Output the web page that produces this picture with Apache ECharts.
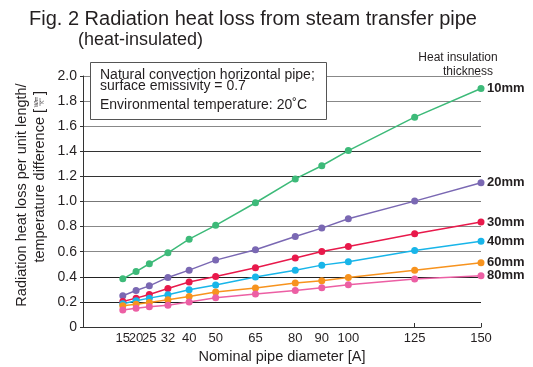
<!DOCTYPE html>
<html>
<head>
<meta charset="utf-8">
<script src="https://cdn.jsdelivr.net/npm/echarts@6/dist/echarts.min.js"></script>
<style>html,body{margin:0;padding:0;background:#fff}#c{width:533px;height:367px}</style>
</head>
<body>
<div id="c"></div>
<script>
const diameters = [15, 20, 25, 32, 40, 50, 65, 80, 90, 100, 125, 150];
const yTicks = [0, 0.2, 0.4, 0.6, 0.8, 1.0, 1.2, 1.4, 1.6, 1.8, 2.0];
const names = ['10mm', '20mm', '30mm', '40mm', '60mm', '80mm'];
const loss10 = [0.384, 0.442, 0.504, 0.591, 0.70, 0.81, 0.99, 1.18, 1.285, 1.406, 1.672, 1.90];
const loss20 = [0.249, 0.291, 0.328, 0.395, 0.453, 0.533, 0.615, 0.721, 0.788, 0.862, 1.003, 1.149];
const loss30 = [0.203, 0.230, 0.259, 0.307, 0.358, 0.403, 0.472, 0.549, 0.602, 0.642, 0.743, 0.836];
const loss40 = [0.185, 0.209, 0.230, 0.257, 0.296, 0.334, 0.398, 0.453, 0.493, 0.520, 0.610, 0.684];
const loss60 = [0.169, 0.182, 0.195, 0.217, 0.243, 0.278, 0.310, 0.350, 0.368, 0.394, 0.453, 0.512];
const loss80 = [0.135, 0.150, 0.161, 0.174, 0.200, 0.233, 0.262, 0.291, 0.312, 0.336, 0.382, 0.408];
const allLoss = [loss10, loss20, loss30, loss40, loss60, loss80];
const colors = ['#3dba79', '#7a68b3', '#e8194b', '#18b5e9', '#f7931e', '#ec5fa4'];

const FF = "'Liberation Sans', Arial, Helvetica, sans-serif";
const TC = '#231f20';

const chart = echarts.init(document.getElementById('c'), null, {renderer: 'canvas'});

const series = allLoss.map((vals, k) => ({
  name: names[k],
  type: 'line',
  data: diameters.map((d, i) => [d, vals[i]]),
  symbol: 'circle',
  symbolSize: 7,
  color: colors[k],
  lineStyle: {width: 1.5, color: colors[k]},
  itemStyle: {color: colors[k]},
  animation: false,
  z: 5,
  endLabel: {
    show: true,
    formatter: names[k],
    distance: 6,
    color: TC,
    fontFamily: FF,
    fontWeight: 'bold',
    fontSize: 13
  }
}));

// a blank label at 0 keeps the min-label overlap check away from "15"/"20"
const xLabelValues = [0].concat(diameters);

chart.setOption({
  backgroundColor: '#fff',
  animation: false,
  grid: {left: 83, right: 52, top: 76, bottom: 40, containLabel: false, outerBoundsMode: 'none'},
  xAxis: {
    type: 'value',
    min: 0, max: 150,
    axisLine: {show: true, lineStyle: {color: '#333', width: 1}},
    axisTick: {show: true, inside: true, length: 4, customValues: [125, 150], lineStyle: {color: '#333'}},
    axisLabel: {
      customValues: xLabelValues, hideOverlap: false,
      formatter: v => v === 0 ? '' : String(v),
      color: TC, fontFamily: FF, fontSize: 13, margin: 5
    },
    splitLine: {show: false},
    name: 'Nominal pipe diameter [A]',
    nameLocation: 'middle',
    nameGap: 22,
    nameTextStyle: {color: TC, fontFamily: FF, fontSize: 14.5}
  },
  yAxis: {
    type: 'value',
    min: 0, max: 2.0, interval: 0.2,
    axisLine: {show: true, lineStyle: {color: '#333', width: 1}},
    axisTick: {show: true, inside: false, length: 3, lineStyle: {color: '#333'}},
    axisLabel: {
      color: TC, fontFamily: FF, fontSize: 14, margin: 6,
      formatter: v => v === 0 ? '0' : v.toFixed(1)
    },
    splitLine: {show: true, lineStyle: {width: 1.2, color: ['#333', '#222', '#222', '#888', '#888', '#777', '#333', '#333', '#888', '#888', '#888']}}
  },
  graphic: [
    {type: 'text', left: 29, top: 9, style: {text: 'Fig. 2 Radiation heat loss from steam transfer pipe', font: '20px ' + FF, fill: TC}},
    {type: 'text', left: 78, top: 31, style: {text: '(heat-insulated)', font: '18px ' + FF, fill: TC}},
    {type: 'text', x: 458, y: 58, style: {text: 'Heat insulation', font: '12px ' + FF, fill: TC, align: 'center', verticalAlign: 'middle'}},
    {type: 'text', x: 468, y: 72, style: {text: 'thickness', font: '12px ' + FF, fill: TC, align: 'center', verticalAlign: 'middle'}},
    {type: 'rect', z: 100, shape: {x: 90.5, y: 62.5, width: 236, height: 57}, style: {fill: '#fff', stroke: '#555', lineWidth: 1}},
    {type: 'text', z: 101, x: 100, y: 75, style: {text: 'Natural convection horizontal pipe;', font: '14px ' + FF, fill: TC, verticalAlign: 'middle'}},
    {type: 'text', z: 101, x: 100, y: 86.5, style: {text: 'surface emissivity = 0.7', font: '14px ' + FF, fill: TC, verticalAlign: 'middle'}},
    {type: 'text', z: 101, x: 100, y: 105, style: {text: 'Environmental temperature: 20˚C', font: '14px ' + FF, fill: TC, verticalAlign: 'middle'}},
    {
      type: 'group', x: 31, y: 195, rotation: Math.PI / 2,
      children: [
        {type: 'text', x: 0, y: -9, style: {text: 'Radiation heat loss per unit length/', font: '14.5px ' + FF, fill: TC, align: 'center', verticalAlign: 'middle'}},
        {type: 'text', x: 78, y: 9, style: {text: 'temperature difference', font: '14.5px ' + FF, fill: TC, align: 'right', verticalAlign: 'middle'}},
        {type: 'text', x: 84, y: 9, style: {text: '[', font: '15px ' + FF, fill: TC, align: 'center', verticalAlign: 'middle'}},
        {type: 'text', x: 93, y: 6, style: {text: 'W/m', font: '5px ' + FF, fill: TC, align: 'center', verticalAlign: 'middle'}},
        {type: 'line', shape: {x1: 89, y1: 9, x2: 97, y2: 9}, style: {stroke: TC, lineWidth: 0.5}},
        {type: 'text', x: 93, y: 12, style: {text: 'K', font: '5px ' + FF, fill: TC, align: 'center', verticalAlign: 'middle'}},
        {type: 'text', x: 102, y: 9, style: {text: ']', font: '15px ' + FF, fill: TC, align: 'center', verticalAlign: 'middle'}}
      ]
    }
  ],
  series: series
});
</script>
</body>
</html>
